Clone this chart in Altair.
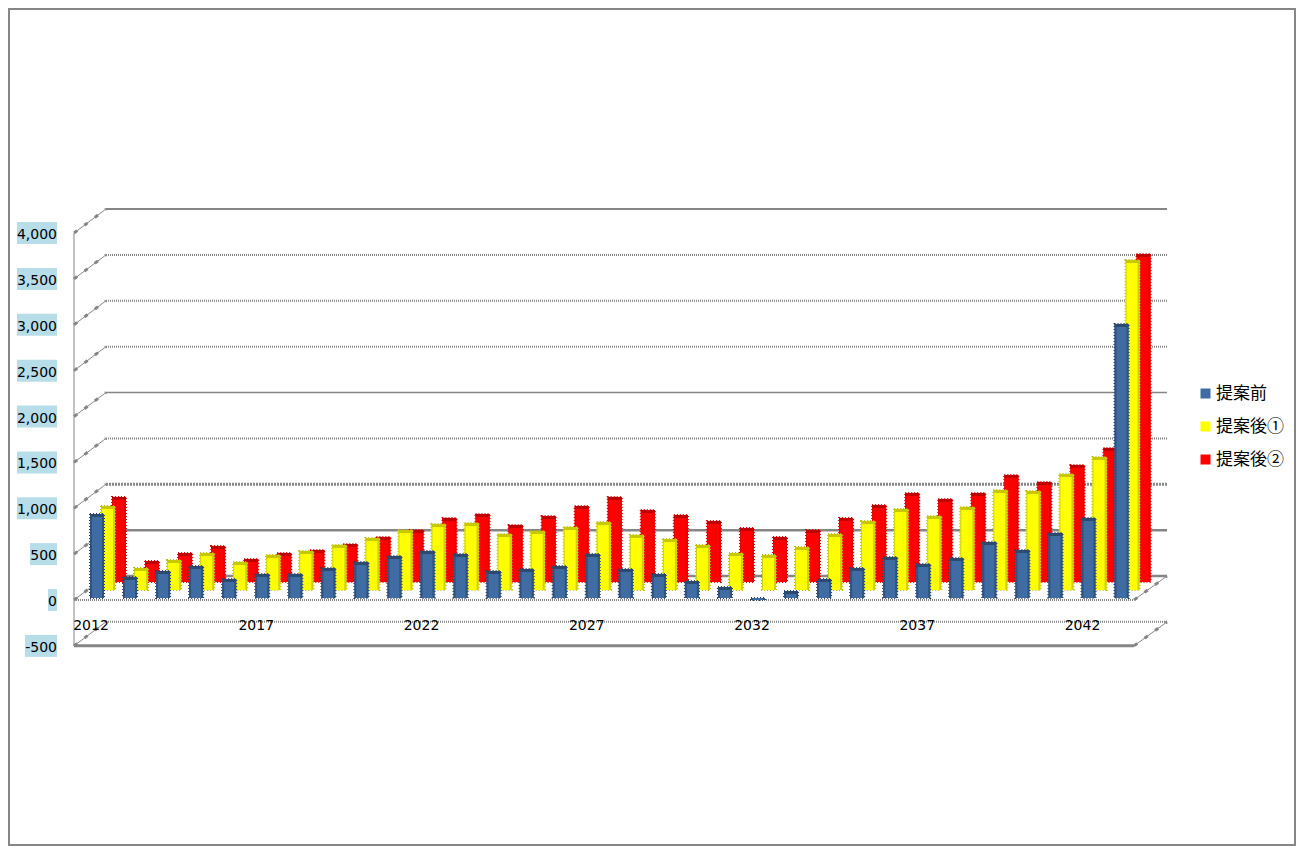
import altair as alt
import pandas as pd

YEARS = list(range(2012, 2044))
SERIES = ["提案前", "提案後①", "提案後②"]
COLORS = ["#3F6DA3", "#FFFF00", "#FF0000"]
BEFORE = [916,229,294,349,207,262,262,327,392,458,512,480,294,316,349,480,316,262,185,120,-22,76,207,327,447,371,436,610,523,709,872,2987]
AFTER1 = [916,240,327,403,305,382,425,491,567,654,719,730,610,643,687,741,600,556,491,403,382,469,610,752,883,807,905,1090,1079,1264,1450,3597]
AFTER2 = [927,229,316,392,251,316,349,414,491,567,698,741,621,719,828,927,785,730,665,589,491,567,698,839,970,905,970,1166,1090,1275,1461,3575]
TICKS = [4000, 3500, 3000, 2500, 2000, 1500, 1000, 500, 0, -500]
LABEL_WIDTHS = {4000: 40, 3500: 40, 3000: 40, 2500: 40, 2000: 40, 1500: 40, 1000: 40, 500: 27, 0: 9, -500: 32}
YEAR_LABELS = [2012, 2017, 2022, 2027, 2032, 2037, 2042]

GRAY = "#868686"
U = 10.9          # value units per pixel
STEP = 33.05      # pixels per category
W, H = 1288, 838


def u(py):
    return (600 - py) * U


xs = alt.Scale(domain=[8, 8 + W], range=[0, W], nice=False, zero=False)
ys = alt.Scale(domain=[u(8 + H), u(8)], range=[H, 0], nice=False, zero=False)


def X(f):
    return alt.X(f, type="quantitative", scale=xs, axis=None)


def Y(f):
    return alt.Y(f, type="quantitative", scale=ys, axis=None)


def X2(f):
    return alt.X2(f)


def Y2(f):
    return alt.Y2(f)


# frame
frame = alt.Chart(pd.DataFrame({"x": [9], "x2": [7 + W], "y": [u(7 + H)], "y2": [u(9)]})).mark_rect(
    fill="white", stroke=GRAY, strokeWidth=2
).encode(x=X("x"), x2=X2("x2"), y=Y("y"), y2=Y2("y2"))

# gridlines
BACK_DY = u(576)
FX0, FX1, BX0, BX1 = 74, 1134, 106, 1167


def back(values, width, dash=None):
    df = pd.DataFrame({"v": [v + BACK_DY for v in values], "a": BX0, "b": BX1})
    kw = dict(color=GRAY, strokeWidth=width)
    if dash:
        kw["strokeDash"] = dash
    return alt.Chart(df).mark_rule(**kw).encode(x=X("a"), x2=X2("b"), y=Y("v"))


def front(values, width, dash=None):
    df = pd.DataFrame({"v": values, "a": FX0, "b": FX1})
    kw = dict(color=GRAY, strokeWidth=width)
    if dash:
        kw["strokeDash"] = dash
    return alt.Chart(df).mark_rule(**kw).encode(x=X("a"), x2=X2("b"), y=Y("v"))


grid = [
    back([4000], 2),
    back([3500, 3000, 2500, -500], 2, [1, 1]),
    back([2000], 1.5),
    back([1500], 2, [1, 1]),
    back([1000], 3, [2, 1]),
    back([500], 2.5),
    back([0], 2.5),
]

slants = pd.DataFrame({
    "a": [FX0] * len(TICKS) + [FX1, FX1],
    "b": [BX0] * len(TICKS) + [BX1, BX1],
    "f": TICKS + [0, -500],
    "t": [v + BACK_DY for v in TICKS] + [BACK_DY, BACK_DY - 500],
})
slant1 = alt.Chart(slants).mark_rule(color=GRAY, strokeWidth=1).encode(
    x=X("a"), x2=X2("b"), y=Y("f"), y2=Y2("t"))
slant2 = alt.Chart(slants).mark_rule(color=GRAY, strokeWidth=3, strokeDash=[4, 9]).encode(
    x=X("a"), x2=X2("b"), y=Y("f"), y2=Y2("t"))
leftwall = alt.Chart(pd.DataFrame({"a": [FX0], "f": [4000], "t": [-500]})).mark_rule(
    color=GRAY, strokeWidth=1).encode(x=X("a"), y=Y("f"), y2=Y2("t"))

# bars
SPEC = [
    (2, AFTER2, 119, 582, "#C00000", "#E80000", "#E00000", 1),
    (1, AFTER1, 108, 590, "#C8C800", "#D0D000", "#B8B800", 1),
    (0, BEFORE, 97, 598, "#2C4A70", "#2F527F", "#1F3C62", 2),
]
BAR_W = 14
bar_layers = []
for idx, vals, cx, base, cap, edge, stip, lw in SPEC:
    rows = []
    for i, (yr, v) in enumerate(zip(YEARS, vals)):
        c = cx + STEP * i
        y0 = u(base)
        y1 = y0 + v
        rows.append({
            "year": yr, "series": SERIES[idx], "xa": c - BAR_W / 2, "xb": c + BAR_W / 2,
            "y0": y0, "y1": y1,
            "cap": y1 - (3 if v >= 0 else 0) * U,
            "la": c - BAR_W / 2, "lb": c - BAR_W / 2 + lw,
            "ra": c + BAR_W / 2 - 2, "rb": c + BAR_W / 2,
        })
    df = pd.DataFrame(rows)
    base_chart = alt.Chart(df)
    color = alt.Color(
        "series:N",
        scale=alt.Scale(domain=SERIES, range=COLORS),
        legend=alt.Legend(
            orient="none", legendX=1189, legendY=377, title=None, symbolType="square",
            symbolSize=100, symbolStrokeWidth=0, labelFont="Noto Sans CJK JP", labelFontSize=17,
            labelColor="black", rowPadding=15, labelOffset=2, labelLimit=120,
        ),
    )
    stipple = base_chart.mark_rect(fill=None, stroke=stip, strokeWidth=2, strokeDash=[1, 2]).encode(
        x=X("xa"), x2=X2("xb"), y=Y("y0"), y2=Y2("y1"))
    body = base_chart.mark_rect().encode(
        x=X("xa"), x2=X2("xb"), y=Y("y0"), y2=Y2("y1"), color=color)
    ledge = base_chart.mark_rect(color=edge).encode(x=X("la"), x2=X2("lb"), y=Y("y0"), y2=Y2("y1"))
    redge = base_chart.mark_rect(color=edge).encode(x=X("ra"), x2=X2("rb"), y=Y("y0"), y2=Y2("y1"))
    capm = base_chart.mark_rect(color=cap).encode(x=X("xa"), x2=X2("xb"), y=Y("cap"), y2=Y2("y1"))
    bar_layers += [stipple, body, ledge, redge, capm]

# y labels
lab = pd.DataFrame({
    "v": TICKS,
    "txt": [f"{t:,}" for t in TICKS],
    "r": 57,
    "l": [57 - LABEL_WIDTHS[t] for t in TICKS],
    "ya": [t - 11 * U for t in TICKS],
    "yb": [t + 11 * U for t in TICKS],
})
lab_bg = alt.Chart(lab).mark_rect(color="#B7DDE8").encode(x=X("l"), x2=X2("r"), y=Y("ya"), y2=Y2("yb"))
lab_txt = alt.Chart(lab).mark_text(
    align="right", baseline="middle", font="DejaVu Sans", fontSize=14, color="black", dy=2
).encode(x=X("r"), y=Y("v"), text="txt:N")

# x labels
xl = pd.DataFrame({
    "t": [str(y) for y in YEAR_LABELS],
    "x": [91 + STEP * (y - 2012) for y in YEAR_LABELS],
    "y": [u(624)] * len(YEAR_LABELS),
})
xl_txt = alt.Chart(xl).mark_text(
    align="center", baseline="middle", font="DejaVu Sans", fontSize=14, color="black", dy=2
).encode(x=X("x"), y=Y("y"), text="t:N")

floor = [front([0], 2, [1, 1]), front([-500], 3)]

chart = alt.layer(
    frame, *grid, slant1, slant2, leftwall, *floor, *bar_layers, lab_bg, lab_txt, xl_txt
).properties(width=W, height=H, padding=0, background="white",
             autosize=alt.AutoSizeParams(type="none")).configure_view(stroke=None)

chart.save("out.html", embed_options={"renderer": "svg", "actions": False})
